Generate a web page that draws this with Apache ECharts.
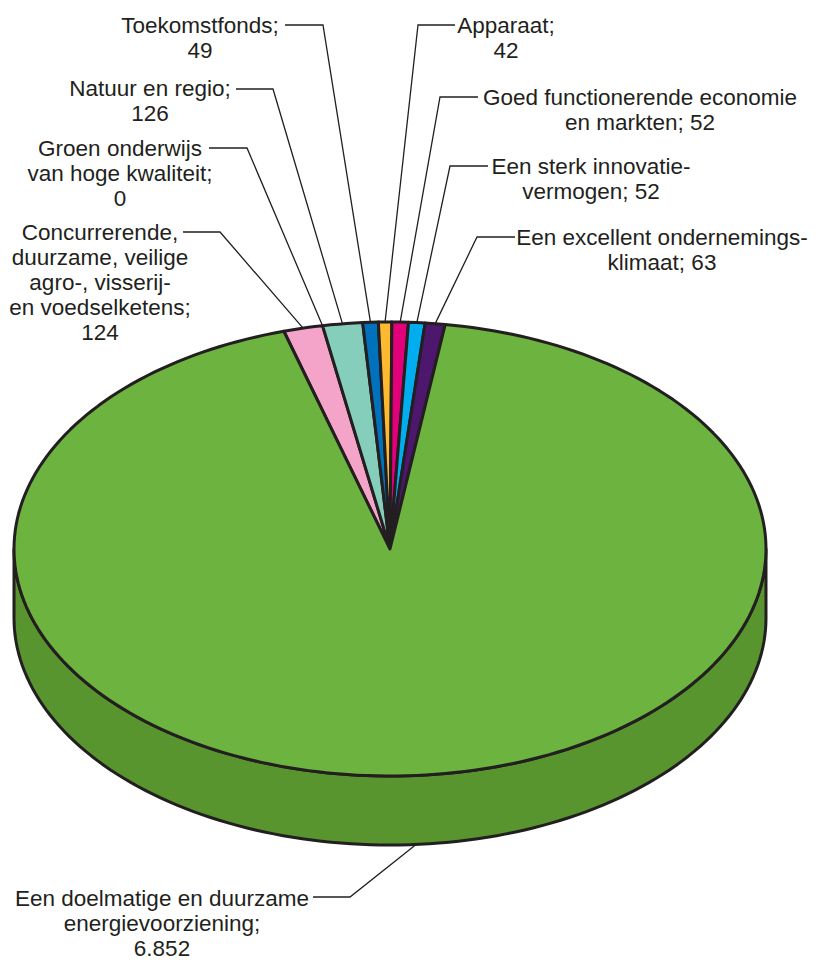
<!DOCTYPE html>
<html>
<head>
<meta charset="utf-8">
<script src="https://cdn.jsdelivr.net/npm/echarts@6/dist/echarts.min.js"></script>
<style>
  html, body { margin: 0; padding: 0; background: #fff; }
  #main { width: 818px; height: 961px; }
</style>
</head>
<body>
<div id="main"></div>
<script>
// categorieen, met de regelafbreking van het label
var names = [
    'Concurrerende,\nduurzame, veilige\nagro-, visserij-\nen voedselketens',
    'Groen onderwijs\nvan hoge kwaliteit',
    'Natuur en regio',
    'Toekomstfonds',
    'Apparaat',
    'Goed functionerende economie\nen markten',
    'Een sterk innovatie-\nvermogen',
    'Een excellent ondernemings-\nklimaat',
    'Een doelmatige en duurzame\nenergievoorziening'
];
// bedragen
var values = [124, 0, 126, 49, 42, 52, 52, 63, 6852];

var colors = ['#F4A4C9', '#8FD0C0', '#86CEBC', '#0072BB', '#FDB92F', '#E2007A', '#00AEEF', '#4D176E', '#6DB33F'];
var sideColors = ['#C9819F', '#6FA898', '#6AA898', '#005A94', '#CC9424', '#B40062', '#008BBF', '#3A1055', '#58952F'];

// plek van de labels: midden tekst, y eerste regel, waarde op nieuwe regel, aanwijslijn [x0, x1, y]
var labelLayout = [
    { x: 100, y: 232, sep: ';\n', line: [183, 220, 232] },
    { x: 120, y: 148, sep: ';\n', line: [209, 247, 148] },
    { x: 150, y: 88, sep: ';\n', line: [236, 273, 89] },
    { x: 200, y: 25, sep: ';\n', line: [285, 323, 25] },
    { x: 506, y: 25, sep: ';\n', line: [455, 418, 25] },
    { x: 640, y: 97, sep: '; ', line: [478, 440, 97] },
    { x: 591, y: 166, sep: '; ', line: [488, 450, 166] },
    { x: 662, y: 237, sep: '; ', line: [515, 477, 237] },
    { x: 162, y: 898, sep: ';\n', line: [313, 350, 897] }
];

// taart geometrie
var cx = 390, cy = 549, rx = 376, ry = 227, depth = 69;
var startDeg = -16.4;
var lineH = 25;
var ink = '#231F20';

var total = 0, cum = [];
values.forEach(function (v) { cum.push(total); total += v; });

function fmt(n) {
    return String(n).replace(/\B(?=(\d{3})+(?!\d))/g, '.');
}

function pt(deg, dy) {
    var r = deg * Math.PI / 180;
    return [cx + rx * Math.sin(r), cy - ry * Math.cos(r) + (dy || 0)];
}

function arc(d0, d1, dy) {
    var pts = [];
    var n = Math.max(2, Math.ceil(Math.abs(d1 - d0) / 1.5));
    for (var k = 0; k <= n; k++) {
        pts.push(pt(d0 + (d1 - d0) * k / n, dy));
    }
    return pts;
}

function renderItem(params, api) {
    var i = params.dataIndex;
    var v = api.value(0);
    var a0 = startDeg + cum[i] * 360 / total;
    var a1 = a0 + v * 360 / total;
    var children = [];

    // zijkant (alleen de voorkant is zichtbaar)
    var lo = Math.max(a0, 90), hi = Math.min(a1, 270);
    if (hi > lo) {
        var side = arc(lo, hi, 0).concat(arc(hi, lo, depth));
        children.push({
            type: 'polygon',
            shape: { points: side },
            style: { fill: sideColors[i], stroke: ink, lineWidth: 3, lineJoin: 'round' }
        });
    }

    // bovenkant
    if (v > 0) {
        children.push({
            type: 'polygon',
            shape: { points: [[cx, cy]].concat(arc(a0, a1, 0)) },
            style: { fill: colors[i], stroke: ink, lineWidth: 3, lineJoin: 'round' }
        });
    }

    // aanwijslijn
    var mid = (a0 + a1) / 2;
    var end = (mid > 90 && mid < 270) ? pt(mid, depth) : pt(mid, 0);
    var L = labelLayout[i];
    children.push({
        type: 'polyline',
        shape: { points: [[L.line[0], L.line[2]], [L.line[1], L.line[2]], end] },
        style: { fill: null, stroke: ink, lineWidth: 1.3 }
    });

    // label
    children.push({
        type: 'text',
        x: L.x,
        y: L.y - lineH / 2,
        style: {
            text: names[i] + L.sep + fmt(v),
            fill: ink,
            fontFamily: 'Liberation Sans',
            fontSize: 22.5,
            lineHeight: lineH,
            align: 'center',
            verticalAlign: 'top'
        }
    });

    return { type: 'group', children: children };
}

var myChart = echarts.init(document.getElementById('main'), null, { renderer: 'svg' });
var myOption = {
    animation: false,
    series: [
        {
            type: 'custom',
            coordinateSystem: 'none',
            silent: true,
            renderItem: renderItem,
            data: values.map(function (v) { return [v]; })
        }
    ]
};
myChart.setOption(myOption);
</script>
</body>
</html>
